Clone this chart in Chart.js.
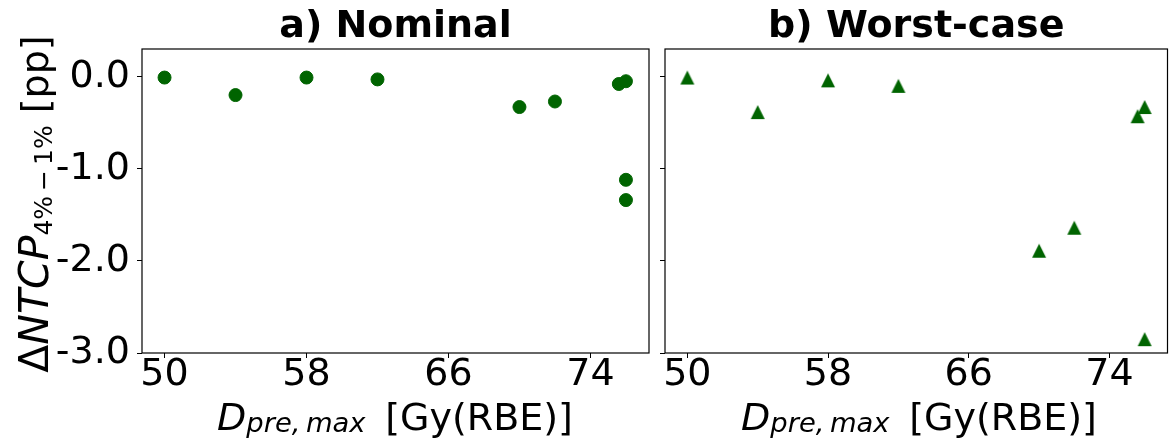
<!DOCTYPE html>
<html>
<head>
<meta charset="utf-8">
<script src="https://cdn.jsdelivr.net/npm/chart.js@4.4.0/dist/chart.umd.min.js"></script>
<style>
  html, body { margin: 0; padding: 0; background: #fff; overflow: hidden; }
  #wrap { position: relative; width: 1170px; height: 443px; overflow: hidden; font-family: "DejaVu Sans"; color: #000; }
  canvas { position: absolute; top: 0; }
  .lbl { position: absolute; font-size: 38px; line-height: 38px; white-space: nowrap; text-align: center; }
  .lbl sub { vertical-align: baseline; position: relative; }
  .xl sub { font-size: 72%; top: 2px; }
  #ylabel { left: -216px; top: 185px; width: 500px; height: 38px; transform: rotate(-90deg); }
  #ylabel .m { font-size: 41px; }
  #ylabel sub { font-size: 25px; top: 4px; }
</style>
</head>
<body>
<div id="wrap">
  <canvas id="nominal" width="660" height="443" style="left:0"></canvas>
  <canvas id="worst" width="520" height="443" style="left:655px"></canvas>
  <div class="lbl" id="ylabel"><span class="m">Δ<i>NTCP</i></span><sub>4%&thinsp;−&thinsp;1%</sub> [pp]</div>
  <div class="lbl xl" style="left:95px; width:600px; top:398px"><i>D</i><sub><i>pre,&thinsp;max</i></sub>&thinsp; [Gy(RBE)]</div>
  <div class="lbl xl" style="left:619px; width:600px; top:398px"><i>D</i><sub><i>pre,&thinsp;max</i></sub>&thinsp; [Gy(RBE)]</div>
</div>
<script>
// max pre-treatment dose per patient
var nominalDose = [50, 54, 58, 62, 70, 72, 75.6, 76, 76, 76];
var nominalDelta = [-0.01, -0.20, -0.01, -0.03, -0.33, -0.27, -0.08, -0.05, -1.12, -1.34];
var worstDose = [50, 54, 58, 62, 70, 72, 75.6, 76, 76];
var worstDelta = [-0.01, -0.385, -0.04, -0.10, -1.89, -1.64, -0.43, -0.33, -2.85];

var xTicks = [50, 58, 66, 74];
var yTicks = [-3, -2, -1, 0];
var yTickLabels = ["-3.0", "-2.0", "-1.0", "0.0"];

var green = "#006400";
var tickFont = { family: "DejaVu Sans", size: 38, lineHeight: 0.9 };

// matplotlib style "^" marker
var tri = document.createElement("canvas");
tri.width = 16;
tri.height = 16;
var tctx = tri.getContext("2d");
tctx.fillStyle = green;
tctx.beginPath();
tctx.moveTo(8, 1);
tctx.lineTo(15, 15);
tctx.lineTo(1, 15);
tctx.closePath();
tctx.fill();

// box around the plot area (all four spines)
var frame = {
  id: "frame",
  afterDraw: function (chart) {
    var a = chart.chartArea;
    var ctx = chart.ctx;
    ctx.save();
    ctx.strokeStyle = "#000";
    ctx.lineWidth = 1.2;
    ctx.strokeRect(a.left, a.top, a.right - a.left, a.bottom - a.top);
    ctx.restore();
  },
};

function points(xs, ys) {
  return xs.map(function (x, i) { return { x: x, y: ys[i] }; });
}

function makeChart(id, title, data, marker, showY, yWidth, padRight) {
  return new Chart(document.getElementById(id), {
    type: "scatter",
    data: {
      datasets: [
        {
          data: data,
          pointStyle: marker,
          pointRadius: 6.5,
          pointBorderWidth: 1,
          backgroundColor: green,
          borderColor: green,
        },
      ],
    },
    options: {
      responsive: false,
      animation: false,
      events: [],
      layout: { padding: { left: 0, right: padRight, top: 0, bottom: 0 } },
      plugins: {
        legend: { display: false },
        tooltip: { enabled: false },
        title: {
          display: true,
          fullSize: false,
          text: title,
          color: "#000",
          font: { family: "DejaVu Sans", size: 38, weight: "bold", lineHeight: 1 },
          padding: { top: 8, bottom: 3 },
        },
      },
      scales: {
        x: {
          type: "linear",
          min: 48.73,
          max: 77.3,
          afterBuildTicks: function (s) {
            s.ticks = xTicks.map(function (v) { return { value: v }; });
          },
          afterFit: function (s) { s.height = 90; },
          ticks: {
            color: "#000",
            font: tickFont,
            padding: 0,
            maxRotation: 0,
            autoSkip: false,
            callback: function (v) { return String(v); },
          },
          grid: { drawOnChartArea: false, drawTicks: true, tickLength: 5, color: "#000", lineWidth: 1 },
          border: { display: false },
        },
        y: {
          type: "linear",
          min: -3,
          max: 0.3,
          afterBuildTicks: function (s) {
            s.ticks = yTicks.map(function (v) { return { value: v }; });
          },
          afterFit: function (s) { s.width = yWidth; },
          ticks: {
            display: showY,
            color: "#000",
            font: tickFont,
            padding: 7,
            callback: function (v) { return yTickLabels[yTicks.indexOf(v)]; },
          },
          grid: { drawOnChartArea: false, drawTicks: true, tickLength: 5, color: "#000", lineWidth: 1 },
          border: { display: false },
        },
      },
    },
    plugins: [frame],
  });
}

makeChart("nominal", "a) Nominal", points(nominalDose, nominalDelta), "circle", true, 142, 11);
makeChart("worst", "b) Worst-case", points(worstDose, worstDelta), tri, false, 10, 3);
</script>
</body>
</html>
